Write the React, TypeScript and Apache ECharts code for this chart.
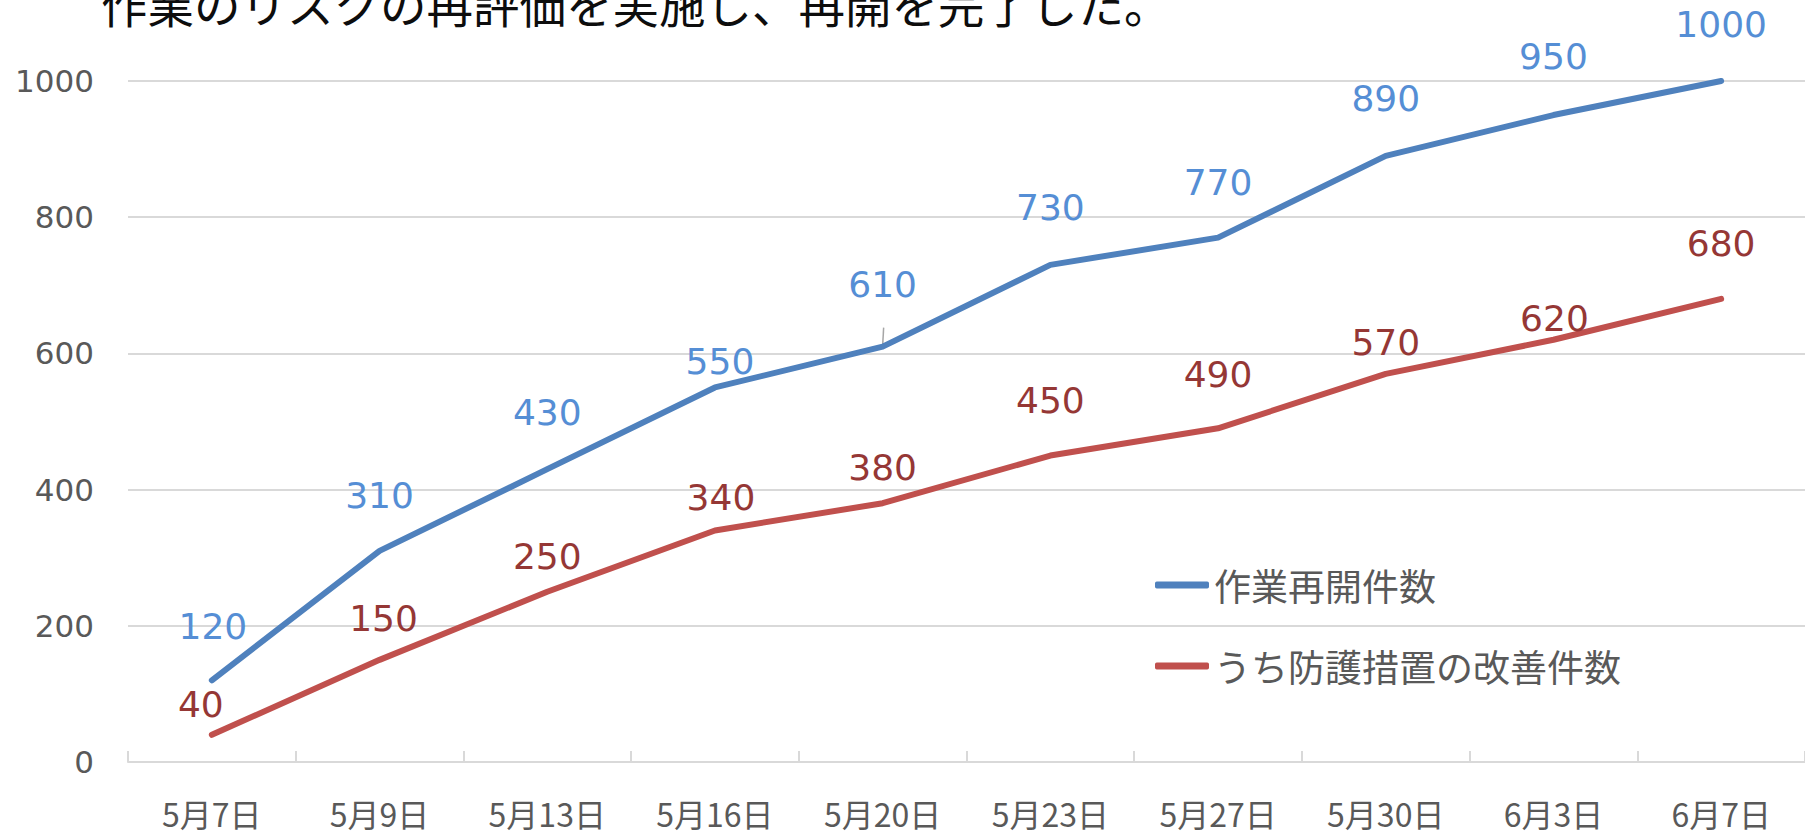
import React, { useEffect, useRef } from "react";
import * as echarts from "echarts";

const titleText = "作業のリスクの再評価を実施し、再開を完了した。";
const categories = ["5月7日", "5月9日", "5月13日", "5月16日", "5月20日", "5月23日", "5月27日", "5月30日", "6月3日", "6月7日"];
const seriesNames = ["作業再開件数", "うち防護措置の改善件数"];
const restartCounts = [120, 310, 430, 550, 610, 730, 770, 890, 950, 1000];
const improvedCounts = [40, 150, 250, 340, 380, 450, 490, 570, 620, 680];
const yTicks = [0, 200, 400, 600, 800, 1000];

// label placement (styling, not data)
const blueLabelOffsets: [number, number][] = [
  [1, -54], [0, -55], [0, -57], [5, -26], [0, -62], [0, -57], [0, -55], [0, -57], [0, -59], [0, -57],
];
const redLabelOffsets: [number, number][] = [
  [-11, -30], [4, -41], [0, -35], [6, -33], [0, -36], [0, -55], [0, -54], [0, -31], [1, -21], [0, -55],
];

const BLUE = "#4F81BD";
const RED = "#C0504D";
const BLUE_LABEL = "#558ED5";
const RED_LABEL = "#953735";
const AXIS_TEXT = "#595959";
const GRID = "#D9D9D9";
const NUM_FONT = "'DejaVu Sans', Verdana, sans-serif";
const CJK_FONT = "'Noto Sans CJK JP', 'Noto Sans', sans-serif";

export default function App() {
  const ref = useRef<HTMLDivElement>(null);
  useEffect(() => {
    document.body.style.margin = "0";
    document.body.style.overflow = "hidden";
    if (!ref.current) return;
    const chart = echarts.init(ref.current, undefined, { renderer: "svg" });
    const mkSeries = (name: string, vals: number[], color: string, labelColor: string, offsets: [number, number][]) => ({
      name,
      type: "line",
      data: vals.map((v, i) => ({ value: v, label: { offset: offsets[i] } })),
      symbol: "circle",
      symbolSize: 0,
      showSymbol: true,
      itemStyle: { color },
      lineStyle: { color, width: 6, cap: "round", join: "round" },
      label: {
        show: true,
        position: "inside",
        color: labelColor,
        fontFamily: NUM_FONT,
        fontSize: 36,
      },
      emphasis: { disabled: true },
    });
    const titleGraphic = {
      type: "text",
      left: 101,
      top: -21,
      style: { text: titleText, fontFamily: CJK_FONT, fontSize: 46.5, fill: "#0D0D0D" },
    };
    chart.setOption({
      animation: false,
      graphic: [titleGraphic],
      legend: {
        orient: "vertical",
        left: 1155,
        top: 565,
        padding: 0,
        itemWidth: 54,
        itemHeight: 7,
        itemGap: 41,
        icon: "roundRect",
        textStyle: { color: AXIS_TEXT, fontFamily: CJK_FONT, fontSize: 37, lineHeight: 40 },
        data: seriesNames,
      },
      grid: { left: 128, top: 81, width: 1680, height: 681, containLabel: false },
      xAxis: {
        type: "category",
        data: categories,
        boundaryGap: true,
        axisLine: { show: true, lineStyle: { color: GRID, width: 2 } },
        axisTick: { show: true, inside: true, length: 11, lineStyle: { color: GRID, width: 2 } },
        axisLabel: { color: AXIS_TEXT, fontFamily: CJK_FONT, fontSize: 32, lineHeight: 32, margin: 35 },
      },
      yAxis: {
        type: "value",
        min: yTicks[0],
        max: yTicks[yTicks.length - 1],
        interval: 200,
        axisLine: { show: false },
        axisTick: { show: false },
        splitLine: { lineStyle: { color: GRID, width: 2 } },
        axisLabel: {
          color: AXIS_TEXT,
          fontFamily: NUM_FONT,
          fontSize: 31,
          margin: 34,
          formatter: (v: number) => String(v),
        },
      },
      series: [
        mkSeries(seriesNames[0], restartCounts, BLUE, BLUE_LABEL, blueLabelOffsets),
        mkSeries(seriesNames[1], improvedCounts, RED, RED_LABEL, redLabelOffsets),
      ],
    });
    // leader line for the moved "610" label
    const p = chart.convertToPixel({ seriesIndex: 0 }, [4, restartCounts[4]]) as number[];
    chart.setOption({
      graphic: [
        titleGraphic,
        {
          type: "line",
          shape: { x1: p[0] + 1, y1: p[1] - 19, x2: p[0], y2: p[1] - 1 },
          style: { stroke: "#A6A6A6", lineWidth: 1.5 },
          z: 1,
        },
      ],
    });
    return () => chart.dispose();
  }, []);
  return <div ref={ref} style={{ position: "absolute", left: 0, top: 0, width: 1805, height: 832 }} />;
}
